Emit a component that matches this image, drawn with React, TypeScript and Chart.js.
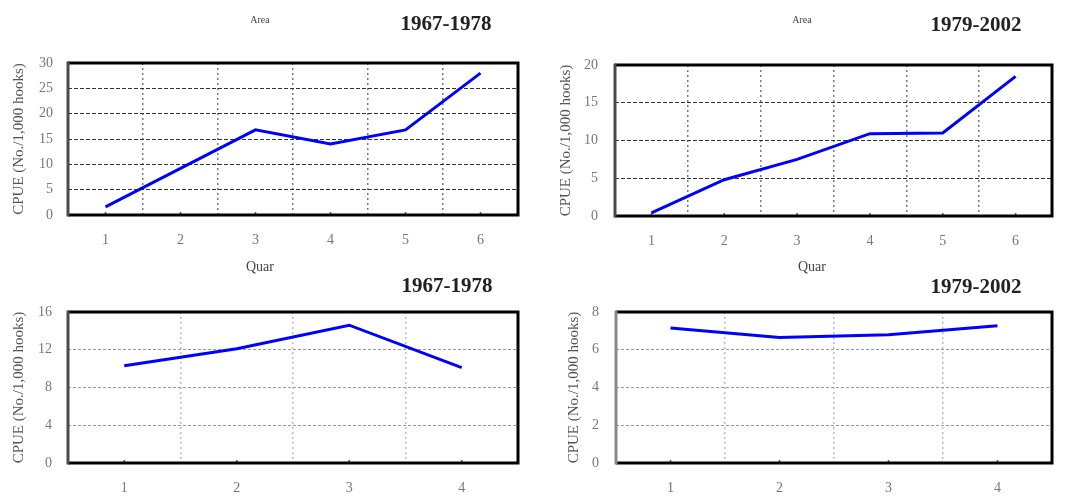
import React, { useEffect, useRef } from "react";
import { Chart, registerables } from "chart.js";

Chart.register(...registerables);

// ---- data ----
const areaLabels = ["1", "2", "3", "4", "5", "6"];
const quarterLabels = ["1", "2", "3", "4"];
const areaCpue1967 = [1.6, 9.2, 16.8, 14.0, 16.8, 28.0];
const areaCpue1979 = [0.4, 4.8, 7.5, 10.9, 11.0, 18.5];
const quarCpue1967 = [10.3, 12.1, 14.6, 10.1];
const quarCpue1979 = [7.15, 6.65, 6.8, 7.27];
const yAxisTitle = "CPUE (No./1,000 hooks)";
const periodTop = ["1967-1978", "1979-2002"];
const areaText = "Area";
const quarText = "Quar";

const SERIF = "'Liberation Serif', 'Times New Roman', serif";

const decorPlugin = {
  id: "decor",
  afterDraw(chart: any, _args: any, opts: any) {
    const ctx = chart.ctx;
    const { left, right, top, bottom } = chart.chartArea;
    ctx.save();
    // small tick marks at category centers
    const xs = chart.scales.x;
    ctx.strokeStyle = "#555";
    ctx.lineWidth = 1.5;
    for (let i = 0; i < xs.ticks.length; i++) {
      const px = xs.getPixelForTick(i);
      ctx.beginPath();
      ctx.moveTo(px, bottom - 3);
      ctx.lineTo(px, bottom);
      ctx.stroke();
    }
    // frame
    ctx.lineWidth = 3;
    ctx.strokeStyle = "#000";
    ctx.beginPath();
    ctx.moveTo(left, top);
    ctx.lineTo(right, top);
    ctx.lineTo(right, bottom);
    ctx.lineTo(left, bottom);
    ctx.stroke();
    ctx.strokeStyle = opts.leftColor || "#555";
    ctx.beginPath();
    ctx.moveTo(left, top - 1.5);
    ctx.lineTo(left, bottom + 1.5);
    ctx.stroke();
    // texts
    ctx.textAlign = "center";
    ctx.textBaseline = "middle";
    for (const t of opts.texts || []) {
      ctx.font = t.font;
      ctx.fillStyle = t.color;
      ctx.fillText(t.text, t.x, t.y);
    }
    ctx.restore();
  },
};

type PanelProps = {
  left: number;
  top: number;
  width: number;
  height: number;
  labels: string[];
  values: number[];
  yMax: number;
  yStep: number;
  padTop: number;
  padRight: number;
  yWidth: number;
  xHeight: number;
  yTickPad: number;
  yTitlePad: number;
  dark: boolean;
  leftColor: string;
  texts: { text: string; x: number; y: number; font: string; color: string }[];
};

function Panel(p: PanelProps) {
  const ref = useRef<HTMLCanvasElement>(null);
  useEffect(() => {
    if (!ref.current) return;
    const chart = new Chart(ref.current, {
      type: "line",
      data: {
        labels: p.labels,
        datasets: [
          {
            data: p.values,
            borderColor: "#0000ff",
            borderWidth: 3,
            pointRadius: 0,
            tension: 0,
            fill: false,
          },
        ],
      },
      options: {
        animation: false,
        responsive: false,
        layout: { padding: { top: p.padTop, right: p.padRight, left: 0, bottom: 0 } },
        plugins: {
          legend: { display: false },
          tooltip: { enabled: false },
          title: { display: false },
          decor: { leftColor: p.leftColor, texts: p.texts },
        } as any,
        scales: {
          x: {
            type: "category",
            offset: true,
            grid: {
              offset: true,
              drawTicks: false,
              color: p.dark ? "#7a7a7a" : "#bdbdbd",
              lineWidth: 1.5,
            },
            border: { display: false, dash: [2, 3] },
            ticks: {
              padding: 17,
              color: "#777",
              font: { family: SERIF, size: 14 },
              maxRotation: 0,
            },
            afterFit: (s: any) => {
              s.height = p.xHeight;
            },
          },
          y: {
            min: 0,
            max: p.yMax,
            grid: {
              drawTicks: false,
              color: p.dark ? "#333" : "#9a9a9a",
              lineWidth: 1,
            },
            border: { display: false, dash: p.dark ? [4, 2] : [3, 2] },
            ticks: {
              stepSize: p.yStep,
              padding: p.yTickPad,
              color: "#777",
              font: { family: SERIF, size: 14 },
            },
            title: {
              display: true,
              text: yAxisTitle,
              color: "#555",
              font: { family: SERIF, size: 15 },
              padding: { top: p.yTitlePad, bottom: 0 },
            },
            afterFit: (s: any) => {
              s.width = p.yWidth;
            },
          },
        },
      },
      plugins: [decorPlugin],
    });
    return () => chart.destroy();
  }, []);
  return (
    <canvas
      ref={ref}
      width={p.width}
      height={p.height}
      style={{ position: "absolute", left: p.left, top: p.top, width: p.width, height: p.height, display: "block" }}
    />
  );
}

const small = `10px ${SERIF}`;
const big = `bold 21px ${SERIF}`;
const mid = `14px ${SERIF}`;

export default function App() {
  return (
    <div style={{ position: "absolute", left: 0, top: 0, width: 1070, height: 497, background: "#fff", overflow: "hidden" }}>
      <Panel
        left={0}
        top={0}
        width={530}
        height={285}
        labels={areaLabels}
        values={areaCpue1967}
        yMax={30}
        yStep={5}
        padTop={63}
        padRight={12}
        yWidth={68}
        xHeight={70}
        yTickPad={15}
        yTitlePad={10}
        dark={true}
        leftColor="#4a4a4a"
        texts={[
          { text: areaText, x: 260, y: 20, font: small, color: "#444" },
          { text: periodTop[0], x: 446, y: 25, font: big, color: "#222" },
          { text: quarText, x: 260, y: 267, font: mid, color: "#444" },
        ]}
      />
      <Panel
        left={530}
        top={0}
        width={540}
        height={285}
        labels={areaLabels}
        values={areaCpue1979}
        yMax={20}
        yStep={5}
        padTop={65}
        padRight={18}
        yWidth={85}
        xHeight={69}
        yTickPad={17}
        yTitlePad={27}
        dark={true}
        leftColor="#4a4a4a"
        texts={[
          { text: areaText, x: 272, y: 20, font: small, color: "#444" },
          { text: periodTop[1], x: 446, y: 26, font: big, color: "#222" },
          { text: quarText, x: 282, y: 267, font: mid, color: "#444" },
        ]}
      />
      <Panel
        left={0}
        top={270}
        width={530}
        height={227}
        labels={quarterLabels}
        values={quarCpue1967}
        yMax={16}
        yStep={4}
        padTop={42}
        padRight={12}
        yWidth={68}
        xHeight={34}
        yTickPad={16}
        yTitlePad={10}
        dark={false}
        leftColor="#4a4a4a"
        texts={[{ text: periodTop[0], x: 447, y: 17, font: big, color: "#222" }]}
      />
      <Panel
        left={530}
        top={270}
        width={540}
        height={227}
        labels={quarterLabels}
        values={quarCpue1979}
        yMax={8}
        yStep={2}
        padTop={42}
        padRight={18}
        yWidth={86}
        xHeight={34}
        yTickPad={17}
        yTitlePad={35}
        dark={false}
        leftColor="#888"
        texts={[{ text: periodTop[1], x: 446, y: 18, font: big, color: "#222" }]}
      />
    </div>
  );
}
